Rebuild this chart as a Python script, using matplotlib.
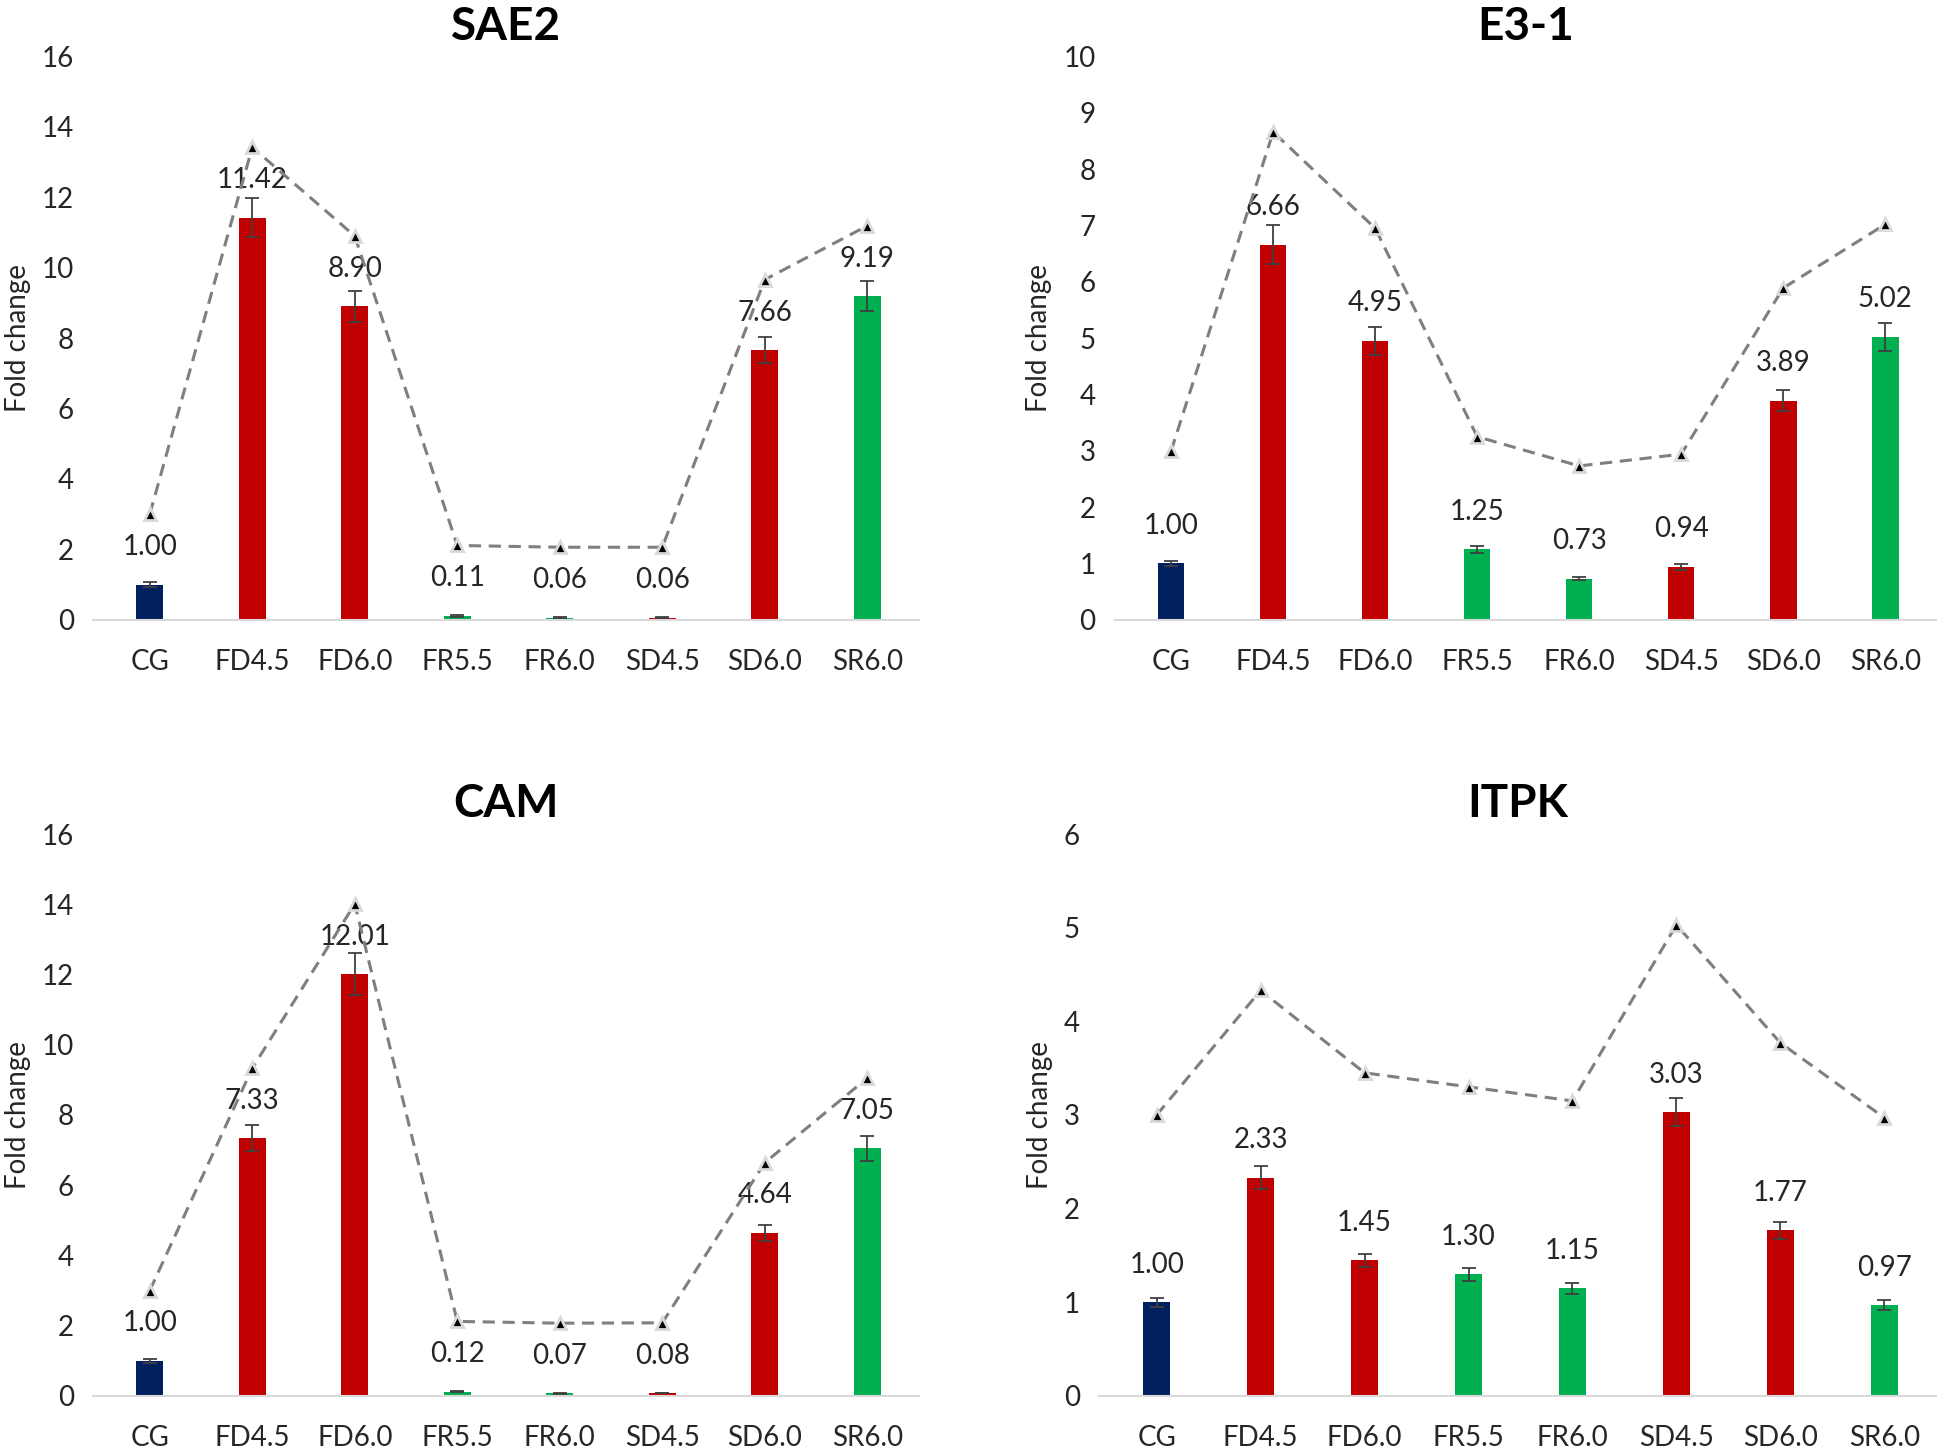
import matplotlib
matplotlib.use("Agg")
import matplotlib.pyplot as plt

#%% data

categories = ['CG', 'FD4.5', 'FD6.0', 'FR5.5', 'FR6.0', 'SD4.5', 'SD6.0', 'SR6.0']
bar_colors = ['#002060', '#C00000', '#C00000', '#00B050', '#00B050', '#C00000', '#C00000', '#00B050']

sae2_vals = [1.00, 11.42, 8.90, 0.11, 0.06, 0.06, 7.66, 9.19]
sae2_err = [0.06, 0.55, 0.43, 0.02, 0.01, 0.01, 0.37, 0.42]
sae2_line = [3.00, 13.42, 10.90, 2.11, 2.06, 2.06, 9.66, 11.19]

e31_vals = [1.00, 6.66, 4.95, 1.25, 0.73, 0.94, 3.89, 5.02]
e31_err = [0.05, 0.34, 0.25, 0.06, 0.03, 0.05, 0.19, 0.25]
e31_line = [3.00, 8.66, 6.95, 3.25, 2.73, 2.94, 5.89, 7.02]

cam_vals = [1.00, 7.33, 12.01, 0.12, 0.07, 0.08, 4.64, 7.05]
cam_err = [0.06, 0.37, 0.60, 0.02, 0.01, 0.01, 0.23, 0.35]
cam_line = [3.00, 9.33, 14.01, 2.12, 2.07, 2.08, 6.64, 9.05]

itpk_vals = [1.00, 2.33, 1.45, 1.30, 1.15, 3.03, 1.77, 0.97]
itpk_err = [0.05, 0.12, 0.07, 0.07, 0.06, 0.15, 0.09, 0.05]
itpk_line = [3.00, 4.33, 3.45, 3.30, 3.15, 5.03, 3.77, 2.97]

panels = [
    ('SAE2', sae2_vals, sae2_err, sae2_line, 16, 2, [0.048, 0.572, 0.424, 0.389]),
    ('E3-1', e31_vals, e31_err, e31_line, 10, 1, [0.573, 0.572, 0.422, 0.389]),
    ('CAM', cam_vals, cam_err, cam_line, 16, 2, [0.048, 0.036, 0.424, 0.388]),
    ('ITPK', itpk_vals, itpk_err, itpk_line, 6, 1, [0.565, 0.036, 0.430, 0.388]),
]

plt.rcParams['font.family'] = ['Lato', 'DejaVu Sans']

fig = plt.figure(figsize=(19.46, 14.48), dpi=100)

for title, vals, err, line, ymax, step, rect in panels:
    ax = fig.add_axes(rect)
    x = list(range(len(categories)))
    ax.bar(x, vals, width=0.26, color=bar_colors, zorder=2)
    ax.errorbar(x, vals, yerr=err, fmt='none', ecolor='#404040',
                elinewidth=1.3, capsize=5, capthick=1.3, zorder=3)
    ax.plot(x, line, linestyle=(0, (4, 2.5)), color='#7F7F7F', linewidth=2.2,
            marker='^', markersize=9, markerfacecolor='black',
            markeredgecolor='#D9D9D9', markeredgewidth=2, zorder=4)
    for xi, v in zip(x, vals):
        ax.annotate('%.2f' % v, (xi, v), xytext=(0, 27), textcoords='offset points',
                    ha='center', va='center', fontsize=20, color='#262626')
    ax.set_xlim(-0.55, 7.5)
    ax.set_ylim(0, ymax)
    ax.set_yticks(range(0, ymax + 1, step))
    ax.set_xticks(x)
    ax.set_xticklabels(categories)
    ax.tick_params(axis='both', length=0, labelsize=20, colors='#262626')
    ax.tick_params(axis='x', pad=21)
    ax.tick_params(axis='y', pad=14)
    for s in ['top', 'right', 'left']:
        ax.spines[s].set_visible(False)
    ax.spines['bottom'].set_color('#D9D9D9')
    ax.spines['bottom'].set_linewidth(1.5)
    ax.set_ylabel('Fold change', fontsize=20, color='#262626', labelpad=8)
    ax.set_title(title, fontsize=33, fontweight='bold', pad=12)

fig.savefig('out.png', dpi=100, facecolor='white')
